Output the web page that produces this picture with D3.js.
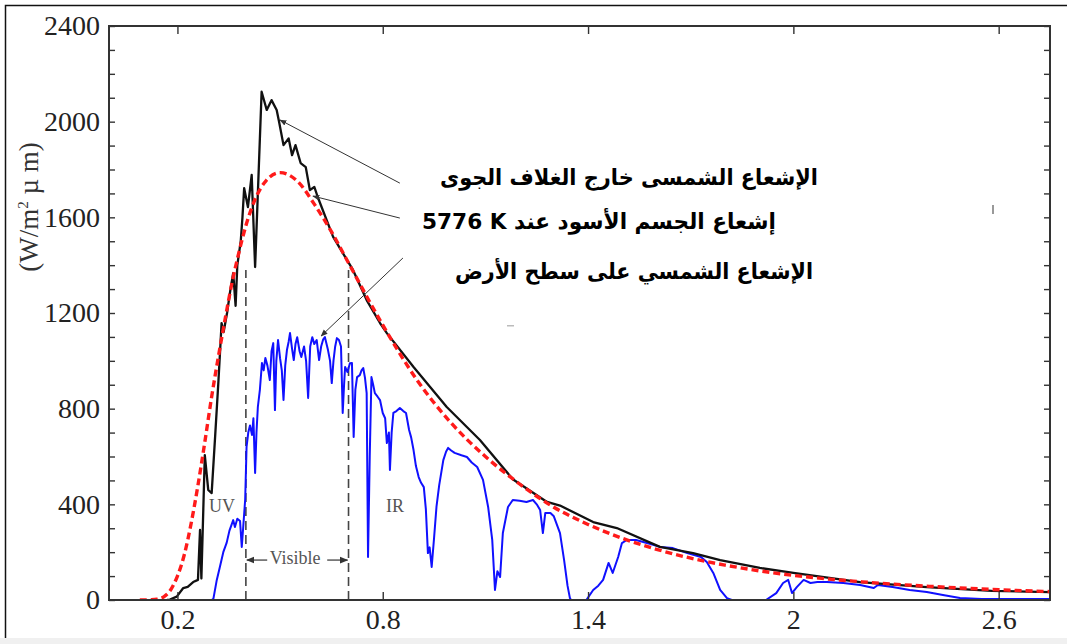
<!DOCTYPE html>
<html><head><meta charset="utf-8">
<script src="https://cdn.jsdelivr.net/npm/d3@7"></script>
<style>body{margin:0;background:#fff} svg{display:block}</style>
</head><body>
<svg id="c" width="1067" height="644"></svg>
<script>
// ---- data (wavelength in µm, irradiance in W/m²µm) ----
const xTickValues = [0.2, 0.8, 1.4, 2, 2.6];
const yTickValues = [0, 400, 800, 1200, 1600, 2000, 2400];

const extraX = [0.17,0.178,0.198,0.217,0.23,0.246,0.26,0.266,0.27,0.28,0.29,0.30,0.31,0.32,0.325,0.329,0.335,0.345,0.355,0.363,0.37,0.375,0.385,0.39,0.395,0.406,0.417,0.427,0.446,0.461,0.475,0.49,0.497,0.51,0.525,0.535,0.545,0.56,0.575,0.587,0.60,0.61,0.655,0.713,0.753,0.792,0.812,0.89,0.987,1.084,1.18,1.28,1.318,1.415,1.484,1.61,1.707,1.786,1.902,2.0,2.195,2.39,2.58,2.75];
const extraY = [0,2,14,50,55,75,84,293,90,606,460,447,680,920,1050,1158,1120,1200,1300,1367,1230,1400,1500,1600,1722,1643,1777,1392,2125,2049,2090,2049,2000,1902,1930,1860,1902,1827,1810,1714,1727,1685,1518,1380,1254,1158,1116,974,807,669,505,410,395,326,301,222,196,167,134,113,75,54,38,33];

const bbX = [0.09,0.12,0.14,0.16,0.18,0.20,0.22,0.24,0.26,0.28,0.30,0.32,0.34,0.36,0.38,0.40,0.43,0.46,0.50,0.55,0.60,0.65,0.70,0.80,0.90,1.0,1.1,1.2,1.3,1.4,1.5,1.6,1.7,1.8,1.9,2.0,2.2,2.4,2.6,2.75];
const bbY = [0,1,3,13,42,100,189,320,480,660,850,1020,1180,1330,1455,1565,1685,1755,1787,1752,1655,1540,1409,1150,920,740,600,485,388,316,258,212,175,146,122,103,76,57,43,35];

const surfX = [0.28,0.30,0.305,0.315,0.324,0.334,0.344,0.352,0.363,0.368,0.375,0.383,0.388,0.392,0.398,0.402,0.407,0.412,0.418,0.422,0.427,0.431,0.435,0.441,0.447,0.452,0.457,0.463,0.47,0.475,0.48,0.485,0.489,0.494,0.50,0.505,0.51,0.515,0.52,0.525,0.529,0.535,0.54,0.545,0.55,0.557,0.562,0.57,0.576,0.582,0.588,0.594,0.60,0.607,0.614,0.62,0.626,0.631,0.64,0.646,0.651,0.656,0.661,0.666,0.672,0.678,0.683,0.687,0.69,0.697,0.704,0.71,0.715,0.72,0.725,0.733,0.738,0.743,0.748,0.753,0.757,0.762,0.767,0.772,0.777,0.785,0.792,0.80,0.807,0.812,0.818,0.821,0.826,0.831,0.84,0.85,0.86,0.868,0.877,0.883,0.89,0.897,0.905,0.912,0.92,0.926,0.932,0.937,0.943,0.95,0.957,0.965,0.977,0.985,0.991,1.00,1.01,1.03,1.046,1.06,1.076,1.093,1.108,1.12,1.128,1.135,1.143,1.151,1.166,1.18,1.20,1.22,1.239,1.25,1.26,1.268,1.275,1.29,1.30,1.318,1.33,1.34,1.347,1.35,1.395,1.415,1.43,1.444,1.46,1.472,1.488,1.499,1.513,1.54,1.572,1.61,1.648,1.69,1.73,1.747,1.766,1.786,1.806,1.82,1.92,1.95,1.97,1.985,1.996,2.01,2.03,2.05,2.07,2.098,2.146,2.195,2.235,2.247,2.29,2.34,2.39,2.437,2.487,2.55,2.75];
const surfY = [0,0,5,84,138,200,240,290,334,305,340,330,222,300,420,640,700,730,690,760,531,700,807,880,991,960,1012,980,920,1040,1074,794,1000,1087,1010,960,836,980,1045,1080,1116,1050,1003,1070,1099,1040,1016,1060,1000,845,1060,1099,1070,1087,1003,1060,1090,1099,1045,1000,907,1000,1060,1095,1087,1060,782,900,974,953,990,991,682,880,932,940,960,970,930,865,180,600,932,900,865,850,836,782,760,656,700,544,700,782,790,803,790,782,711,680,627,560,514,490,472,380,196,220,138,260,389,480,585,620,636,625,615,605,598,575,556,502,389,251,42,120,96,280,389,418,415,410,418,400,376,280,364,364,350,280,167,60,8,0,0,42,60,84,155,113,180,238,251,251,238,222,217,196,180,159,113,42,8,0,0,29,71,84,29,54,84,71,75,75,71,63,50,63,54,42,33,21,8,4,4];

// region boundaries and labels
const visibleBounds = [0.4, 0.7];
const boundTop = 1380;
const regionLabels = ["UV", "Visible", "IR"];
const regionLabelX = [0.330, 0.544, 0.836];
const regionLabelY = [385, 167, 385];

// legend texts (Arabic) and leader lines [textX, textY, curveX, curveY]
const legendTexts = ["الإشعاع الشمسى خارج الغلاف الجوى", "إشعاع الجسم الأسود عند  \u200E5776 K", "الإشعاع الشمسي على سطح الأرض"];
const leaders = [[0.850,1743,0.50,2007],[0.850,1597,0.596,1689],[0.859,1430,0.62,1104]];

// ---- drawing ----
const svg = d3.select('#c');
const W = 1067, H = 644;
const x = d3.scaleLinear().domain([0, 2.75]).range([109, 1050]);
const y = d3.scaleLinear().domain([0, 2400]).range([600, 26]);

svg.append('rect').attr('x',0).attr('y',0).attr('width',W).attr('height',H).attr('fill','#fff');
svg.append('rect').attr('x',0).attr('y',638).attr('width',W).attr('height',6).attr('fill','#f0f0f0');
svg.append('path').attr('d','M5.5,638 V5.5 H1067').attr('fill','none').attr('stroke','#111').attr('stroke-width',1.5);

const defs = svg.append('defs');
defs.append('clipPath').attr('id','clip').append('rect')
  .attr('x',109).attr('y',26).attr('width',941).attr('height',574);
defs.append('marker').attr('id','arr').attr('viewBox','0 0 10 10').attr('refX',9).attr('refY',5)
  .attr('markerWidth',7).attr('markerHeight',7).attr('orient','auto-start-reverse')
  .append('path').attr('d','M0,1 L10,5 L0,9 Z').attr('fill','#333');

const line = d3.line().x(d => x(d[0])).y(d => y(d[1]));
const plot = svg.append('g').attr('clip-path','url(#clip)');

visibleBounds.forEach(v => {
  plot.append('line').attr('x1',x(v)).attr('x2',x(v)).attr('y1',y(0)).attr('y2',y(boundTop))
    .attr('stroke','#444').attr('stroke-width',1.6).attr('stroke-dasharray','9,5');
});

plot.append('path').datum(d3.zip(surfX, surfY)).attr('d', line)
  .attr('fill','none').attr('stroke','#1010ff').attr('stroke-width',2).attr('stroke-linejoin','round');
plot.append('path').datum(d3.zip(extraX, extraY)).attr('d', line)
  .attr('fill','none').attr('stroke','#111').attr('stroke-width',2.3).attr('stroke-linejoin','round');
plot.append('path').datum(d3.zip(bbX, bbY)).attr('d', d3.line().x(d=>x(d[0])).y(d=>y(d[1])).curve(d3.curveMonotoneX))
  .attr('fill','none').attr('stroke','#ff1a1a').attr('stroke-width',3.4).attr('stroke-dasharray','7,4');

const serif = '"Liberation Serif","Times New Roman",serif';
regionLabels.forEach((t, i) => {
  svg.append('text').attr('x', x(regionLabelX[i])).attr('y', y(regionLabelY[i])).attr('text-anchor','middle')
    .attr('dominant-baseline','middle').attr('font-family',serif).attr('font-size',18).attr('fill','#555').text(t);
});
const vmid = (visibleBounds[0]+visibleBounds[1])/2;
const vy = regionLabelY[1];
svg.append('line').attr('x1',x(vmid)-30).attr('x2',x(visibleBounds[0])+1).attr('y1',y(vy)).attr('y2',y(vy))
  .attr('stroke','#333').attr('stroke-width',1.2).attr('marker-end','url(#arr)');
svg.append('line').attr('x1',x(vmid)+30).attr('x2',x(visibleBounds[1])-1).attr('y1',y(vy)).attr('y2',y(vy))
  .attr('stroke','#333').attr('stroke-width',1.2).attr('marker-end','url(#arr)');

leaders.forEach(l => {
  svg.append('line').attr('x1',x(l[0])).attr('y1',y(l[1])).attr('x2',x(l[2])).attr('y2',y(l[3]))
    .attr('stroke','#333').attr('stroke-width',1).attr('marker-end','url(#arr)');
});

svg.append('rect').attr('x',109).attr('y',26).attr('width',941).attr('height',574)
  .attr('fill','none').attr('stroke','#333').attr('stroke-width',2);

const fmtX = d3.format('');
const gx = svg.append('g').attr('transform','translate(0,600)')
  .call(d3.axisBottom(x).tickValues(xTickValues).tickSize(-8).tickPadding(9).tickFormat(fmtX));
const gxt = svg.append('g').attr('transform','translate(0,26)')
  .call(d3.axisTop(x).tickValues(xTickValues).tickSize(-8).tickFormat(''));
const minorY = d3.range(0, 2401, 100);
const gy = svg.append('g').attr('transform','translate(109,0)')
  .call(d3.axisLeft(y).tickValues(minorY).tickSize(-6).tickPadding(9).tickFormat(d => yTickValues.includes(d) ? d : ''));
const gyr = svg.append('g').attr('transform','translate(1050,0)')
  .call(d3.axisRight(y).tickValues(minorY).tickSize(-6).tickFormat(''));
[gx,gxt,gy,gyr].forEach(g => {
  g.select('.domain').remove();
  g.selectAll('line').attr('stroke','#333').attr('stroke-width',1.4);
  g.selectAll('text').attr('font-family',serif).attr('font-size',28).attr('fill','#222');
});
gx.selectAll('text').attr('dy','0.71em');

svg.append('text').attr('transform','translate(38,207) rotate(-90)').attr('text-anchor','middle')
  .attr('font-family',serif).attr('font-size',27).attr('fill','#333')
  .html('(W/m<tspan dy="-10" font-size="15">2</tspan><tspan dy="10"> µ m)</tspan>');

const arabicFont = '"DejaVu Sans",sans-serif';
const legendRight = [818, 776, 813];
const legendY = [179, 223, 273];
const legendLen = [378, 354, 358];
legendTexts.forEach((t, i) => {
  svg.append('text').attr('x', legendRight[i]).attr('y', legendY[i]).attr('direction','rtl')
    .attr('text-anchor','start').attr('dominant-baseline','middle')
    .attr('font-family',arabicFont).attr('font-weight','bold').attr('font-size',22).attr('fill','#000')
    .attr('textLength', legendLen[i]).attr('lengthAdjust','spacingAndGlyphs').text(t);
});

svg.append('rect').attr('x',992).attr('y',205).attr('width',2).attr('height',9).attr('fill','#999');
svg.append('rect').attr('x',507).attr('y',325).attr('width',7).attr('height',1.5).attr('fill','#bbb');
</script>
</body></html>
